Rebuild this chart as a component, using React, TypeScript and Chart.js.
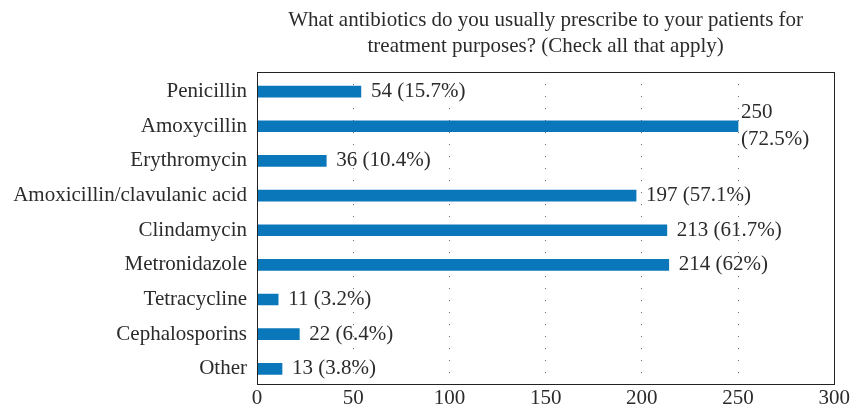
import React, { useEffect, useRef } from "react";
import { Chart, registerables } from "chart.js";

Chart.register(...registerables);

const categories = [
  "Penicillin",
  "Amoxycillin",
  "Erythromycin",
  "Amoxicillin/clavulanic acid",
  "Clindamycin",
  "Metronidazole",
  "Tetracycline",
  "Cephalosporins",
  "Other",
];
const counts = [54, 250, 36, 197, 213, 214, 11, 22, 13];
const percents = ["15.7%", "72.5%", "10.4%", "57.1%", "61.7%", "62%", "3.2%", "6.4%", "3.8%"];
const xTicks = [0, 50, 100, 150, 200, 250, 300];
const titleLines = [
  "What antibiotics do you usually prescribe to your patients for",
  "treatment purposes? (Check all that apply)",
];

const FONT = "'Liberation Serif', 'DejaVu Serif', serif";
const TEXT = "#2b2b2b";

const labelPlugin = {
  id: "barLabels",
  afterDatasetsDraw(chart: any) {
    const ctx = chart.ctx;
    const meta = chart.getDatasetMeta(0);
    ctx.save();
    ctx.font = `21px ${FONT}`;
    ctx.fillStyle = TEXT;
    ctx.textBaseline = "middle";
    ctx.textAlign = "left";
    meta.data.forEach((bar: any, i: number) => {
      const v = counts[i];
      if (v >= 240) {
        ctx.fillText(String(v), bar.x + 3, bar.y - 13.5);
        ctx.fillText(`(${percents[i]})`, bar.x + 3, bar.y + 13.5);
      } else {
        ctx.fillText(`${v} (${percents[i]})`, bar.x + 10, bar.y);
      }
    });
    ctx.restore();
  },
  afterDraw(chart: any) {
    const { ctx, chartArea } = chart;
    ctx.save();
    ctx.strokeStyle = "#222";
    ctx.lineWidth = 1;
    ctx.strokeRect(
      Math.round(chartArea.left) + 0.5,
      Math.round(chartArea.top) + 0.5,
      Math.round(chartArea.right - chartArea.left),
      Math.round(chartArea.bottom - chartArea.top)
    );
    ctx.restore();
  },
};

export default function App() {
  const ref = useRef<HTMLCanvasElement>(null);
  useEffect(() => {
    if (!ref.current) return;
    const chart = new Chart(ref.current, {
      type: "bar",
      data: {
        datasets: [
          {
            data: counts.map((c, i) => ({ x: c, y: i })),
            backgroundColor: "#0a77ba",
            barThickness: 11,
          },
        ],
      },
      options: {
        indexAxis: "y",
        animation: false,
        responsive: false,
        layout: { padding: { left: 0, right: 16, top: 0, bottom: 0 } },
        plugins: {
          legend: { display: false },
          tooltip: { enabled: false },
          title: {
            display: true,
            text: titleLines,
            fullSize: false,
            color: TEXT,
            font: { family: FONT, size: 21, weight: "normal", lineHeight: 1.24 },
            padding: { top: 7, bottom: 13 },
          },
        },
        scales: {
          x: {
            type: "linear",
            min: 0,
            max: 300,
            afterBuildTicks(scale: any) {
              scale.ticks = xTicks.map((v) => ({ value: v }));
            },
            afterFit(scale: any) {
              scale.height = 24;
            },
            grid: {
              display: true,
              color: (c: any) =>
                c.tick && (c.tick.value === 0 || c.tick.value === 300) ? "rgba(0,0,0,0)" : "#666",
              lineWidth: 1,
              drawTicks: false,
            },
            border: { display: false, dash: [1, 11] },
            ticks: {
              color: TEXT,
              font: { family: FONT, size: 21 },
              padding: 2,
              maxRotation: 0,
            },
          },
          y: {
            type: "linear",
            reverse: true,
            offset: false,
            min: -0.5625,
            max: 8.4375,
            afterBuildTicks(scale: any) {
              scale.ticks = categories.map((_, i) => ({ value: i }));
            },
            afterFit(scale: any) {
              scale.width = 257;
            },
            grid: { display: false, drawTicks: false, offset: false },
            border: { display: false },
            ticks: {
              color: TEXT,
              font: { family: FONT, size: 21 },
              padding: 10,
              autoSkip: false,
              callback: (v: any) => categories[Math.round(Number(v))] ?? "",
            },
          },
        },
      } as any,
      plugins: [labelPlugin],
    });
    return () => chart.destroy();
  }, []);
  return (
    <div style={{ position: "fixed", left: 0, top: 0, width: 852, height: 408, background: "#fff" }}>
      <canvas ref={ref} width={852} height={408} />
    </div>
  );
}
